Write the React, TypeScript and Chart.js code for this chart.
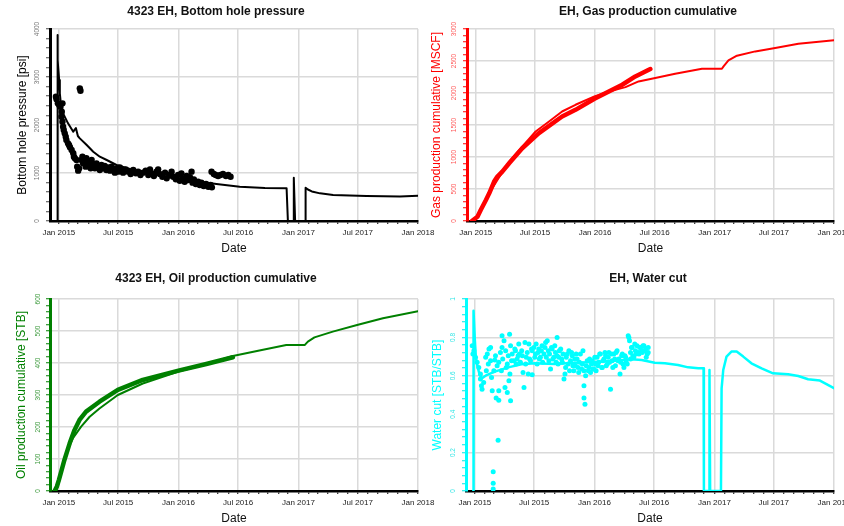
import React, { useEffect, useRef } from "react";
import { Chart, registerables } from "chart.js";
Chart.register(...registerables);

const FONT = "'Liberation Sans', Arial, Helvetica, sans-serif";
Chart.defaults.font.family = FONT;

// ---------- x axis (dates as days since 2015-01-01) ----------
const DAY0 = Date.UTC(2015, 0, 1);
const toDay = (s: string) => {
  const [y, m, d] = s.split("-").map(Number);
  return (Date.UTC(y, m - 1, d) - DAY0) / 86400000;
};
const xStart = "2014-12-05";
const xEnd = "2018-01-01";
const xTickDates = ["2015-01-01", "2015-07-01", "2016-01-01", "2016-07-01", "2017-01-01", "2017-07-01", "2018-01-01"];
const xTickLabels = ["Jan 2015", "Jul 2015", "Jan 2016", "Jul 2016", "Jan 2017", "Jul 2017", "Jan 2018"];

// ---------- Bottom hole pressure [psi] ----------
const bhpSim: [number, number][] = [
  [-5, 0], [-4.5, 3875], [-3, 3354], [1, 2937], [3, 2660], [6, 2452], [13, 2243], [28, 2035], [44, 1861],
  [52, 1937], [58, 1771], [64, 1722], [85, 1583], [105, 1444], [125, 1340], [146, 1271], [176, 1167],
  [227, 1062], [278, 993], [329, 923], [379, 854], [430, 819], [481, 771], [552, 715], [629, 688], [695, 681],
  [699, 0], [716, 0], [717, 902], [721, 0], [752, 0], [753, 694], [760, 656], [772, 615], [797, 576],
  [837, 542], [939, 521], [1041, 510], [1096, 525],
];
const bhpObserved: [number, number][] = [
  [-9, 2590], [-7, 2535], [-3, 2451], [1, 2417], [5, 2382], [11, 2451], [9, 2278], [8, 2173], [11, 2069],
  [13, 1965], [15, 1896], [18, 1826], [21, 1757], [23, 1687], [28, 1618], [31, 1583], [34, 1535], [39, 1479],
  [44, 1410], [46, 1340], [49, 1306], [54, 1271], [56, 1132], [59, 1049], [62, 1097], [64, 2764], [66, 2715],
  [69, 1271], [72, 1340], [74, 1201], [79, 1271], [82, 1132], [84, 1306], [89, 1167], [93, 1236], [97, 1097],
  [100, 1271], [105, 1167], [110, 1097], [115, 1201], [120, 1132], [125, 1063], [130, 1167], [135, 1097],
  [140, 1146], [145, 1063], [150, 1118], [156, 1049], [161, 1132], [166, 1076], [171, 1007], [176, 1097],
  [181, 1028], [186, 1118], [191, 1063], [196, 1007], [204, 1076], [212, 1028], [219, 979], [227, 1063],
  [235, 993], [242, 1028], [249, 958], [257, 1007], [265, 1049], [273, 958], [278, 1076], [283, 993],
  [290, 937], [298, 1028], [303, 1076], [308, 979], [316, 923], [324, 1007], [329, 889], [337, 958],
  [344, 1028], [349, 923], [357, 868], [364, 958], [369, 840], [374, 993], [379, 889], [384, 819], [390, 937],
  [395, 854], [400, 910], [405, 1028], [408, 799], [412, 868], [418, 771], [425, 819], [430, 750], [435, 799],
  [442, 729], [449, 771], [456, 715], [463, 750], [467, 701], [466, 1028], [473, 979], [479, 958], [486, 937],
  [493, 958], [501, 979], [510, 937], [517, 958], [524, 923],
];

// ---------- Gas production cumulative [MSCF] ----------
const gasSim: [number, number][] = [
  [-5, 0], [0, 42], [20, 224], [41, 433], [66, 642], [102, 929], [142, 1163], [183, 1398], [224, 1555],
  [264, 1711], [305, 1816], [363, 1946], [407, 2024], [458, 2092], [498, 2181], [549, 2233], [610, 2301],
  [692, 2379], [753, 2379], [758, 2416], [773, 2510], [799, 2583], [855, 2650], [916, 2703], [987, 2770],
  [1096, 2823],
];
const gasObserved: [number, number][] = [
  [-12, 0], [5, 68], [15, 172], [31, 329], [41, 433], [56, 616], [66, 694], [81, 772], [102, 903],
  [142, 1137], [193, 1372], [264, 1633], [305, 1737], [363, 1910], [407, 2024], [448, 2129], [488, 2259],
  [534, 2374],
];

// ---------- Oil production cumulative [STB] ----------
const oilSim: [number, number][] = [
  [-8, 0], [2, 34], [22, 118], [43, 165], [68, 201], [94, 232], [124, 258], [180, 300], [256, 336],
  [365, 373], [450, 396], [531, 422], [612, 439], [694, 456], [750, 456], [760, 467], [780, 480],
  [836, 498], [910, 519], [989, 540], [1096, 562],
];
const oilObserved: [number, number][] = [
  [-13, 0], [-6, 14], [0, 34], [7, 60], [17, 97], [33, 149], [48, 191], [63, 222], [83, 248], [124, 279],
  [180, 316], [256, 347], [365, 376], [450, 397], [531, 418],
];

// ---------- Water cut [STB/STB] ----------
const wcSim: [number, number][] = [
  [-5, 0], [-4, 0.939], [0, 0.786], [3, 0.7], [8, 0.648], [15, 0.604], [22, 0.587], [36, 0.604], [61, 0.622],
  [102, 0.644], [142, 0.66], [183, 0.665], [244, 0.661], [305, 0.668], [363, 0.672], [427, 0.679],
  [478, 0.686], [509, 0.682], [549, 0.668], [580, 0.665], [620, 0.656], [651, 0.644], [682, 0.639],
  [698, 0.639], [699, 0], [715, 0], [716, 0.63], [718, 0], [751, 0], [753, 0.535], [758, 0.63], [768, 0.7],
  [783, 0.726], [799, 0.726], [819, 0.7], [844, 0.665], [875, 0.639], [910, 0.613], [956, 0.608],
  [987, 0.599], [1017, 0.582], [1053, 0.575], [1073, 0.557], [1096, 0.535],
];
const wcObserved: [number, number][] = [
  [-8, 0.757], [-6, 0.713], [-3, 0.73], [2, 0.696], [7, 0.67], [12, 0.643], [17, 0.609], [17, 0.583],
  [20, 0.548], [22, 0.53], [27, 0.565], [33, 0.696], [35, 0.626], [38, 0.713], [41, 0.661], [43, 0.739],
  [48, 0.748], [48, 0.678], [51, 0.591], [53, 0.522], [56, 0.1], [56, 0.04], [56, 0.01], [58, 0.626],
  [61, 0.682], [63, 0.704], [65, 0.484], [68, 0.652], [71, 0.264], [73, 0.473], [73, 0.522], [73, 0.67],
  [78, 0.722], [81, 0.626], [83, 0.809], [83, 0.748], [85, 0.687], [89, 0.783], [92, 0.539], [94, 0.73],
  [96, 0.643], [99, 0.513], [99, 0.661], [102, 0.704], [104, 0.574], [106, 0.817], [107, 0.609], [109, 0.47],
  [109, 0.757], [112, 0.678], [114, 0.713], [119, 0.678], [122, 0.739], [124, 0.73], [126, 0.661],
  [129, 0.687], [132, 0.704], [134, 0.765], [136, 0.713], [139, 0.67], [143, 0.73], [145, 0.704],
  [147, 0.617], [150, 0.539], [153, 0.774], [155, 0.661], [157, 0.696], [160, 0.722], [163, 0.609],
  [165, 0.765], [167, 0.687], [170, 0.678], [173, 0.739], [175, 0.605], [175, 0.73], [180, 0.748],
  [183, 0.696], [185, 0.713], [187, 0.765], [190, 0.661], [193, 0.722], [195, 0.739], [197, 0.687],
  [200, 0.696], [203, 0.73], [205, 0.757], [207, 0.67], [211, 0.713], [214, 0.748], [216, 0.774],
  [218, 0.696], [221, 0.783], [224, 0.73], [226, 0.678], [228, 0.713], [231, 0.635], [234, 0.748],
  [236, 0.739], [238, 0.687], [241, 0.696], [244, 0.757], [246, 0.722], [248, 0.67], [251, 0.8], [251, 0.704],
  [254, 0.661], [256, 0.696], [258, 0.73], [262, 0.739], [265, 0.687], [267, 0.67], [269, 0.713],
  [272, 0.583], [275, 0.609], [277, 0.643], [279, 0.696], [282, 0.713], [285, 0.661], [287, 0.73],
  [289, 0.626], [292, 0.678], [295, 0.722], [297, 0.704], [299, 0.652], [302, 0.626], [305, 0.687],
  [307, 0.652], [309, 0.713], [312, 0.687], [315, 0.643], [317, 0.617], [319, 0.67], [322, 0.713],
  [326, 0.635], [328, 0.661], [330, 0.73], [333, 0.626], [333, 0.548], [333, 0.484], [336, 0.452],
  [338, 0.6], [340, 0.652], [343, 0.678], [346, 0.626], [348, 0.643], [350, 0.687], [353, 0.617],
  [356, 0.661], [358, 0.678], [360, 0.635], [363, 0.635], [366, 0.696], [368, 0.661], [370, 0.626],
  [373, 0.696], [376, 0.652], [378, 0.67], [381, 0.713], [383, 0.713], [387, 0.643], [389, 0.643],
  [391, 0.678], [394, 0.687], [397, 0.722], [399, 0.704], [401, 0.652], [404, 0.661], [407, 0.696],
  [409, 0.722], [411, 0.67], [414, 0.53], [417, 0.713], [419, 0.678], [421, 0.643], [424, 0.713],
  [427, 0.687], [429, 0.652], [431, 0.722], [434, 0.73], [437, 0.678], [439, 0.687], [443, 0.609],
  [445, 0.67], [448, 0.704], [450, 0.713], [452, 0.661], [455, 0.643], [458, 0.704], [460, 0.696],
  [462, 0.67], [465, 0.661], [468, 0.809], [470, 0.8], [472, 0.783], [475, 0.722], [475, 0.687],
  [478, 0.748], [480, 0.748], [482, 0.704], [485, 0.696], [488, 0.765], [490, 0.73], [492, 0.713],
  [495, 0.757], [499, 0.722], [501, 0.713], [503, 0.748], [506, 0.748], [509, 0.73], [511, 0.722],
  [513, 0.757], [516, 0.757], [519, 0.73], [521, 0.739], [523, 0.696], [526, 0.713], [529, 0.748],
  [529, 0.722],
];

// ---------- y tick labels ----------
const bhpTicks = [0, 1000, 2000, 3000, 4000];
const gasTicks = [0, 500, 1000, 1500, 2000, 2500, 3000];
const oilTicks = [0, 100, 200, 300, 400, 500, 600];
const wcTicks = [0, 0.2, 0.4, 0.6, 0.8, 1];
const wcTickLabels = ["0", "0.2", "0.4", "0.6", "0.8", "1"];
const MINOR_PER_MAJOR = 5;

// ---------- helpers ----------
const X_MIN = toDay(xStart);
const X_MAX = toDay(xEnd);
const majorXDays = xTickDates.map(toDay);

function monthDays(): number[] {
  const out: number[] = [];
  for (let m = -1; m <= 37; m++) {
    const d = (Date.UTC(2015, m, 1) - DAY0) / 86400000;
    if (d >= X_MIN && d <= X_MAX) out.push(d);
  }
  return out;
}
const isMajorX = (v: number) => majorXDays.some((d) => Math.abs(d - v) < 0.5);
const xLabel = (v: number) => {
  const i = majorXDays.findIndex((d) => Math.abs(d - v) < 0.5);
  return i >= 0 ? xTickLabels[i] : "";
};
const pts = (a: [number, number][]) => a.map(([x, y]) => ({ x, y }));

type Cfg = {
  left: number; top: number; w: number; h: number;
  padRight: number; yWidth: number; rightWidth: number;
  titlePad: { top: number; bottom: number };
  xHeight: number; xTitlePadBottom: number; yTitlePadTop: number; yTickPad: number;
  title: string; yTitle: string; color: string; tickLabelColor: string; tickMarkColor: string;
  majors: number[]; majorLabels: string[];
  datasets: any[];
};

function buildConfig(c: Cfg): any {
  const step = (c.majors[1] - c.majors[0]) / MINOR_PER_MAJOR;
  const nMinor = (c.majors.length - 1) * MINOR_PER_MAJOR;
  const yMax = c.majors[c.majors.length - 1];
  const isMajorY = (v: number) => c.majors.some((m) => Math.abs(m - v) < step / 10);
  const yLabel = (v: number) => {
    const i = c.majors.findIndex((m) => Math.abs(m - v) < step / 10);
    return i >= 0 ? c.majorLabels[i] : "";
  };
  return {
    type: "line",
    data: { datasets: c.datasets },
    options: {
      responsive: false,
      animation: false,
      events: [],
      layout: { padding: { left: 0, right: c.padRight, top: 0, bottom: 0 } },
      plugins: {
        legend: { display: false },
        tooltip: { enabled: false },
        title: {
          display: true,
          text: c.title,
          color: "#111",
          font: { size: 12, weight: "bold" },
          padding: c.titlePad,
        },
      },
      scales: {
        x: {
          type: "linear",
          position: "bottom",
          min: X_MIN,
          max: X_MAX,
          afterBuildTicks: (s: any) => {
            s.ticks = monthDays().map((v) => ({ value: v }));
          },
          afterFit: (s: any) => {
            s.height = c.xHeight;
            s.paddingLeft = 0;
            s.paddingRight = 0;
          },
          ticks: {
            autoSkip: false,
            minRotation: 0,
            maxRotation: 0,
            padding: 4,
            color: "#222",
            font: { size: 8 },
            callback: (v: number) => xLabel(v),
          },
          grid: {
            color: (ctx: any) => (ctx.tick && isMajorX(ctx.tick.value) ? "#dadada" : "rgba(0,0,0,0)"),
            lineWidth: 1.5,
            tickColor: "#000",
            tickWidth: 1,
            tickLength: 3,
          },
          border: { display: true, color: "#000", width: 2.5 },
          title: {
            display: true,
            text: "Date",
            color: "#111",
            font: { size: 12 },
            padding: { top: 0, bottom: c.xTitlePadBottom },
          },
        },
        y: {
          type: "linear",
          position: "left",
          min: 0,
          max: yMax,
          afterBuildTicks: (s: any) => {
            const t = [];
            for (let i = 0; i <= nMinor; i++) t.push({ value: c.majors[0] + i * step });
            s.ticks = t;
          },
          afterFit: (s: any) => {
            s.width = c.yWidth;
            s.paddingTop = 0;
            s.paddingBottom = 0;
          },
          ticks: {
            autoSkip: false,
            minRotation: 90,
            maxRotation: 90,
            crossAlign: "center",
            padding: c.yTickPad,
            color: c.tickLabelColor,
            font: { size: 6.5 },
            callback: (v: number) => yLabel(v),
          },
          grid: {
            color: (ctx: any) => (ctx.tick && isMajorY(ctx.tick.value) ? "#dadada" : "rgba(0,0,0,0)"),
            lineWidth: 1.5,
            tickColor: c.tickMarkColor,
            tickWidth: 1,
            tickLength: 4,
          },
          border: { display: true, color: c.color, width: 3 },
          title: {
            display: true,
            text: c.yTitle,
            color: c.color,
            font: { size: 12 },
            padding: { top: c.yTitlePadTop, bottom: 0 },
          },
        },
        yRight: {
          type: "linear",
          axis: "y",
          position: "right",
          display: true,
          grid: { display: false, drawTicks: false },
          ticks: { display: false },
          border: { display: false },
          title: { display: false },
          afterFit: (s: any) => {
            s.width = c.rightWidth;
          },
        },
      },
    },
  };
}

const lineDs = (data: [number, number][], color: string, width: number) => ({
  data: pts(data),
  xAxisID: "x",
  yAxisID: "y",
  borderColor: color,
  backgroundColor: color,
  borderWidth: width,
  pointRadius: 0,
  tension: 0,
  fill: false,
  borderJoinStyle: "round",
  borderCapStyle: "round",
});
const dotDs = (data: [number, number][], color: string, r: number) => ({
  data: pts(data),
  xAxisID: "x",
  yAxisID: "y",
  showLine: false,
  borderColor: color,
  backgroundColor: color,
  pointBackgroundColor: color,
  pointBorderWidth: 0,
  pointRadius: r,
});

const topPad = { top: 4.3, bottom: 10.3 };
const botPad = { top: 8.8, bottom: 12.8 };

const panels: Cfg[] = [
  {
    left: 0, top: 0, w: 436, h: 263, padRight: 4, yWidth: 50, rightWidth: 14, titlePad: topPad,
    xHeight: 42, xTitlePadBottom: 6.8, yTitlePadTop: 15.5, yTickPad: 1.3,
    title: "4323 EH, Bottom hole pressure", yTitle: "Bottom hole pressure [psi]",
    color: "#000", tickLabelColor: "#777", tickMarkColor: "#444",
    majors: bhpTicks, majorLabels: bhpTicks.map(String),
    datasets: [lineDs(bhpSim, "#000", 2), dotDs(bhpObserved, "#000", 3.2)],
  },
  {
    left: 429, top: 0, w: 438, h: 263, padRight: 0, yWidth: 38, rightWidth: 33, titlePad: topPad,
    xHeight: 42, xTitlePadBottom: 6.8, yTitlePadTop: 0.5, yTickPad: 1.3,
    title: "EH, Gas production cumulative", yTitle: "Gas production cumulative [MSCF]",
    color: "#ff0000", tickLabelColor: "#ff5a5a", tickMarkColor: "#ff0000",
    majors: gasTicks, majorLabels: gasTicks.map(String),
    datasets: [lineDs(gasSim, "#ff0000", 2), lineDs(gasObserved, "#ff0000", 4.5)],
  },
  {
    left: 0, top: 263, w: 436, h: 263, padRight: 4, yWidth: 50, rightWidth: 14, titlePad: botPad,
    xHeight: 35, xTitlePadBottom: 0, yTitlePadTop: 14.5, yTickPad: 2.7,
    title: "4323 EH, Oil production cumulative", yTitle: "Oil production cumulative [STB]",
    color: "#008000", tickLabelColor: "#3c9a3c", tickMarkColor: "#008000",
    majors: oilTicks, majorLabels: oilTicks.map(String),
    datasets: [lineDs(oilSim, "#008000", 2), lineDs(oilObserved, "#008000", 4.5)],
  },
  {
    left: 429, top: 263, w: 438, h: 263, padRight: 0, yWidth: 37, rightWidth: 33, titlePad: botPad,
    xHeight: 35, xTitlePadBottom: 0, yTitlePadTop: 1.5, yTickPad: 4,
    title: "EH, Water cut", yTitle: "Water cut [STB/STB]",
    color: "#00ffff", tickLabelColor: "#33e6e6", tickMarkColor: "#00e5e5",
    majors: wcTicks, majorLabels: wcTickLabels,
    datasets: [lineDs(wcSim, "#00ffff", 2.5), dotDs(wcObserved, "#00ffff", 2.5)],
  },
];

function Panel({ cfg }: { cfg: Cfg }) {
  const ref = useRef<HTMLCanvasElement>(null);
  useEffect(() => {
    if (!ref.current) return;
    const chart = new Chart(ref.current, buildConfig(cfg));
    return () => chart.destroy();
  }, []);
  return (
    <canvas
      ref={ref}
      width={cfg.w}
      height={cfg.h}
      style={{ position: "absolute", left: cfg.left, top: cfg.top, width: cfg.w, height: cfg.h }}
    />
  );
}

export default function App() {
  return (
    <div
      style={{
        position: "absolute",
        left: 0,
        top: 0,
        width: 844,
        height: 526,
        overflow: "hidden",
        background: "#fff",
      }}
    >
      {panels.map((p, i) => (
        <Panel key={i} cfg={p} />
      ))}
    </div>
  );
}
